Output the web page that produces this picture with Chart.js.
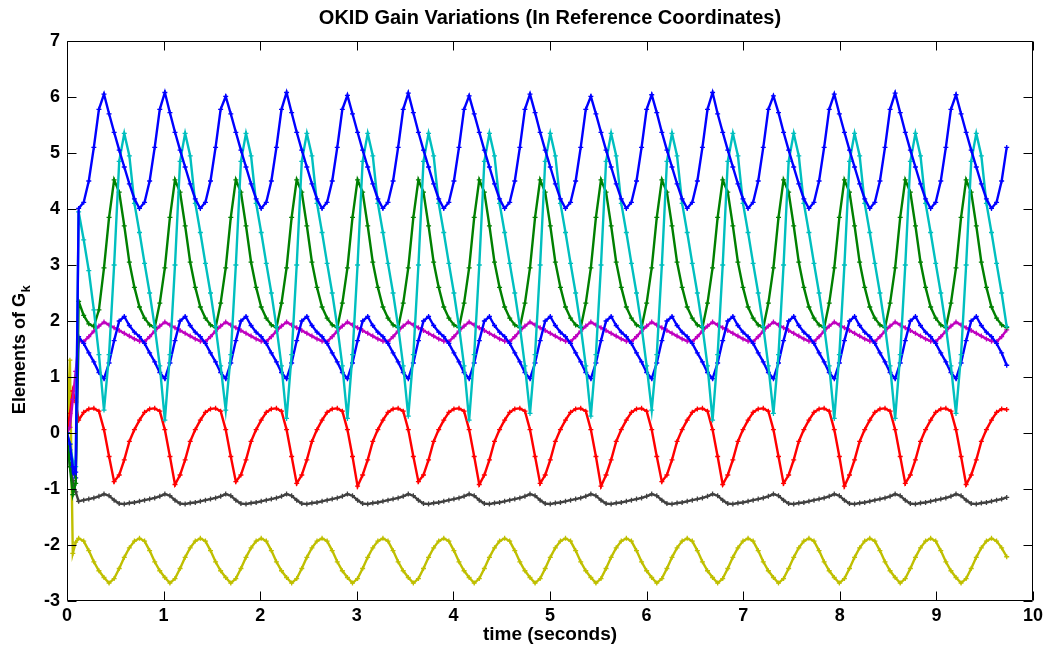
<!DOCTYPE html>
<html>
<head>
<meta charset="utf-8">
<script src="https://cdn.jsdelivr.net/npm/chart.js@4/dist/chart.umd.min.js"></script>
<style>
  html, body { margin: 0; padding: 0; background: #ffffff; }
  #wrap { width: 1047px; height: 650px; }
</style>
</head>
<body>
<div id="wrap"><canvas id="c" width="1047" height="650"></canvas></div>
<script>
// ---------------- data ----------------
const titleText = 'OKID Gain Variations (In Reference Coordinates)';
const xLabel = 'time (seconds)';
const yLabelMain = 'Elements of G';
const yLabelSub = 'k';
const xTickValues = [0, 1, 2, 3, 4, 5, 6, 7, 8, 9, 10];
const yTickValues = [-3, -2, -1, 0, 1, 2, 3, 4, 5, 6, 7];

const time = [
 0, 0.03, 0.06, 0.09,
 0.1205, 0.173, 0.2255, 0.278, 0.3305,
 0.383, 0.4355, 0.488, 0.5405, 0.593, 0.6455, 0.698, 0.7505, 0.803, 0.8555, 0.908, 0.9605,
 1.013, 1.0655, 1.118, 1.1705, 1.223, 1.2755, 1.328, 1.3805, 1.433, 1.4855, 1.538, 1.5905,
 1.643, 1.6955, 1.748, 1.8005, 1.853, 1.9055, 1.958, 2.0105, 2.063, 2.1155, 2.168, 2.2205,
 2.273, 2.3255, 2.378, 2.4305, 2.483, 2.5355, 2.588, 2.6405, 2.693, 2.7455, 2.798, 2.8505,
 2.903, 2.9555, 3.008, 3.0605, 3.113, 3.1655, 3.218, 3.2705, 3.323, 3.3755, 3.428, 3.4805,
 3.533, 3.5855, 3.638, 3.6905, 3.743, 3.7955, 3.848, 3.9005, 3.953, 4.0055, 4.058, 4.1105,
 4.163, 4.2155, 4.268, 4.3205, 4.373, 4.4255, 4.478, 4.5305, 4.583, 4.6355, 4.688, 4.7405,
 4.793, 4.8455, 4.898, 4.9505, 5.003, 5.0555, 5.108, 5.1605, 5.213, 5.2655, 5.318, 5.3705,
 5.423, 5.4755, 5.528, 5.5805, 5.633, 5.6855, 5.738, 5.7905, 5.843, 5.8955, 5.948, 6.0005,
 6.053, 6.1055, 6.158, 6.2105, 6.263, 6.3155, 6.368, 6.4205, 6.473, 6.5255, 6.578, 6.6305,
 6.683, 6.7355, 6.788, 6.8405, 6.893, 6.9455, 6.998, 7.0505, 7.103, 7.1555, 7.208, 7.2605,
 7.313, 7.3655, 7.418, 7.4705, 7.523, 7.5755, 7.628, 7.6805, 7.733, 7.7855, 7.838, 7.8905,
 7.943, 7.9955, 8.048, 8.1005, 8.153, 8.2055, 8.258, 8.3105, 8.363, 8.4155, 8.468, 8.5205,
 8.573, 8.6255, 8.678, 8.7305, 8.783, 8.8355, 8.888, 8.9405, 8.993, 9.0455, 9.098, 9.1505,
 9.203, 9.2555, 9.308, 9.3605, 9.413, 9.4655, 9.518, 9.5705, 9.623, 9.6755, 9.728
];

const gainBlueUpper = [
 0, -0.2, -0.6, -0.7,
 4.01, 4.12, 4.50, 5.10, 5.78,
 6.05, 5.70, 5.37, 5.05, 4.75, 4.45, 4.18, 4.01, 4.12, 4.50, 5.10, 5.78,
 6.08, 5.72, 5.37, 5.05, 4.75, 4.45, 4.18, 4.01, 4.12, 4.50, 5.10, 5.78,
 6.01, 5.70, 5.37, 5.05, 4.75, 4.45, 4.18, 4.01, 4.12, 4.50, 5.10, 5.78,
 6.08, 5.72, 5.37, 5.05, 4.75, 4.45, 4.18, 4.01, 4.12, 4.50, 5.10, 5.78,
 6.03, 5.70, 5.37, 5.05, 4.75, 4.45, 4.18, 4.01, 4.12, 4.50, 5.10, 5.78,
 6.07, 5.72, 5.37, 5.05, 4.75, 4.45, 4.18, 4.01, 4.12, 4.50, 5.10, 5.78,
 6.02, 5.70, 5.37, 5.05, 4.75, 4.45, 4.18, 4.01, 4.12, 4.50, 5.10, 5.78,
 6.05, 5.72, 5.37, 5.05, 4.75, 4.45, 4.18, 4.01, 4.12, 4.50, 5.10, 5.78,
 6.01, 5.70, 5.37, 5.05, 4.75, 4.45, 4.18, 4.01, 4.12, 4.50, 5.10, 5.78,
 6.04, 5.72, 5.37, 5.05, 4.75, 4.45, 4.18, 4.01, 4.12, 4.50, 5.10, 5.78,
 6.08, 5.70, 5.37, 5.05, 4.75, 4.45, 4.18, 4.01, 4.12, 4.50, 5.10, 5.78,
 6.02, 5.72, 5.37, 5.05, 4.75, 4.45, 4.18, 4.01, 4.12, 4.50, 5.10, 5.78,
 6.05, 5.70, 5.37, 5.05, 4.75, 4.45, 4.18, 4.01, 4.12, 4.50, 5.10, 5.78,
 6.07, 5.72, 5.37, 5.05, 4.75, 4.45, 4.18, 4.01, 4.12, 4.50, 5.10, 5.78,
 6.04, 5.70, 5.37, 5.05, 4.75, 4.45, 4.18, 4.01, 4.12, 4.50, 5.10
];

const gainCyan = [
 0, -0.2, -0.5, -0.6,
 3.95, 3.45, 2.90, 2.20, 1.40,
 0.41, 1.40, 3.00, 4.85, 5.35, 4.95, 4.10, 3.58, 3.03, 2.50, 1.90, 1.20,
 0.23, 1.40, 3.00, 4.85, 5.35, 4.95, 4.10, 3.58, 3.03, 2.50, 1.90, 1.20,
 0.41, 1.40, 3.00, 4.85, 5.35, 4.95, 4.10, 3.58, 3.03, 2.50, 1.90, 1.20,
 0.26, 1.40, 3.00, 4.85, 5.35, 4.95, 4.10, 3.58, 3.03, 2.50, 1.90, 1.20,
 0.26, 1.40, 3.00, 4.85, 5.35, 4.95, 4.10, 3.58, 3.03, 2.50, 1.90, 1.20,
 0.30, 1.40, 3.00, 4.85, 5.35, 4.95, 4.10, 3.58, 3.03, 2.50, 1.90, 1.20,
 0.23, 1.40, 3.00, 4.85, 5.35, 4.95, 4.10, 3.58, 3.03, 2.50, 1.90, 1.20,
 0.35, 1.40, 3.00, 4.85, 5.35, 4.95, 4.10, 3.58, 3.03, 2.50, 1.90, 1.20,
 0.30, 1.40, 3.00, 4.85, 5.35, 4.95, 4.10, 3.58, 3.03, 2.50, 1.90, 1.20,
 0.41, 1.40, 3.00, 4.85, 5.35, 4.95, 4.10, 3.58, 3.03, 2.50, 1.90, 1.20,
 0.23, 1.40, 3.00, 4.85, 5.35, 4.95, 4.10, 3.58, 3.03, 2.50, 1.90, 1.20,
 0.35, 1.40, 3.00, 4.85, 5.35, 4.95, 4.10, 3.58, 3.03, 2.50, 1.90, 1.20,
 0.26, 1.40, 3.00, 4.85, 5.35, 4.95, 4.10, 3.58, 3.03, 2.50, 1.90, 1.20,
 0.26, 1.40, 3.00, 4.85, 5.35, 4.95, 4.10, 3.58, 3.03, 2.50, 1.90, 1.20,
 0.35, 1.40, 3.00, 4.85, 5.35, 4.95, 4.10, 3.58, 3.03, 2.50, 1.90
];

const gainGreen = [
 0, -0.6, -1.1, -0.9,
 2.35, 2.10, 1.95, 1.90, 2.20,
 2.95, 3.85, 4.52, 4.30, 3.70, 3.05, 2.60, 2.25, 2.05, 1.93, 1.88, 2.32,
 2.95, 3.85, 4.52, 4.30, 3.70, 3.05, 2.60, 2.25, 2.05, 1.93, 1.88, 2.32,
 2.95, 3.85, 4.52, 4.30, 3.70, 3.05, 2.60, 2.25, 2.05, 1.93, 1.88, 2.32,
 2.95, 3.85, 4.52, 4.30, 3.70, 3.05, 2.60, 2.25, 2.05, 1.93, 1.88, 2.32,
 2.95, 3.85, 4.52, 4.30, 3.70, 3.05, 2.60, 2.25, 2.05, 1.93, 1.88, 2.32,
 2.95, 3.85, 4.52, 4.30, 3.70, 3.05, 2.60, 2.25, 2.05, 1.93, 1.88, 2.32,
 2.95, 3.85, 4.52, 4.30, 3.70, 3.05, 2.60, 2.25, 2.05, 1.93, 1.88, 2.32,
 2.95, 3.85, 4.52, 4.30, 3.70, 3.05, 2.60, 2.25, 2.05, 1.93, 1.88, 2.32,
 2.95, 3.85, 4.52, 4.30, 3.70, 3.05, 2.60, 2.25, 2.05, 1.93, 1.88, 2.32,
 2.95, 3.85, 4.52, 4.30, 3.70, 3.05, 2.60, 2.25, 2.05, 1.93, 1.88, 2.32,
 2.95, 3.85, 4.52, 4.30, 3.70, 3.05, 2.60, 2.25, 2.05, 1.93, 1.88, 2.32,
 2.95, 3.85, 4.52, 4.30, 3.70, 3.05, 2.60, 2.25, 2.05, 1.93, 1.88, 2.32,
 2.95, 3.85, 4.52, 4.30, 3.70, 3.05, 2.60, 2.25, 2.05, 1.93, 1.88, 2.32,
 2.95, 3.85, 4.52, 4.30, 3.70, 3.05, 2.60, 2.25, 2.05, 1.93, 1.88, 2.32,
 2.95, 3.85, 4.52, 4.30, 3.70, 3.05, 2.60, 2.25, 2.05, 1.93, 1.88
];

const gainBlueLower = [
 0, -0.3, -0.7, -0.8,
 1.72, 1.60, 1.43, 1.27, 1.08,
 0.97, 1.25, 1.65, 2.00, 2.08, 1.92, 1.80, 1.72, 1.60, 1.43, 1.27, 1.08,
 0.97, 1.25, 1.65, 2.00, 2.08, 1.92, 1.80, 1.72, 1.60, 1.43, 1.27, 1.08,
 0.97, 1.25, 1.65, 2.00, 2.08, 1.92, 1.80, 1.72, 1.60, 1.43, 1.27, 1.08,
 0.97, 1.25, 1.65, 2.00, 2.08, 1.92, 1.80, 1.72, 1.60, 1.43, 1.27, 1.08,
 0.97, 1.25, 1.65, 2.00, 2.08, 1.92, 1.80, 1.72, 1.60, 1.43, 1.27, 1.08,
 0.97, 1.25, 1.65, 2.00, 2.08, 1.92, 1.80, 1.72, 1.60, 1.43, 1.27, 1.08,
 0.97, 1.25, 1.65, 2.00, 2.08, 1.92, 1.80, 1.72, 1.60, 1.43, 1.27, 1.08,
 0.97, 1.25, 1.65, 2.00, 2.08, 1.92, 1.80, 1.72, 1.60, 1.43, 1.27, 1.08,
 0.97, 1.25, 1.65, 2.00, 2.08, 1.92, 1.80, 1.72, 1.60, 1.43, 1.27, 1.08,
 0.97, 1.25, 1.65, 2.00, 2.08, 1.92, 1.80, 1.72, 1.60, 1.43, 1.27, 1.08,
 0.97, 1.25, 1.65, 2.00, 2.08, 1.92, 1.80, 1.72, 1.60, 1.43, 1.27, 1.08,
 0.97, 1.25, 1.65, 2.00, 2.08, 1.92, 1.80, 1.72, 1.60, 1.43, 1.27, 1.08,
 0.97, 1.25, 1.65, 2.00, 2.08, 1.92, 1.80, 1.72, 1.60, 1.43, 1.27, 1.08,
 0.97, 1.25, 1.65, 2.00, 2.08, 1.92, 1.80, 1.72, 1.60, 1.43, 1.27, 1.08,
 0.97, 1.25, 1.65, 2.00, 2.08, 1.92, 1.80, 1.72, 1.60, 1.43, 1.21
];

const gainMagenta = [
 0, 0.1, 0.6, 1.1,
 1.64, 1.63, 1.72, 1.82, 1.91,
 1.98, 1.93, 1.88, 1.83, 1.78, 1.73, 1.68, 1.64, 1.63, 1.72, 1.82, 1.91,
 1.98, 1.93, 1.88, 1.83, 1.78, 1.73, 1.68, 1.64, 1.63, 1.72, 1.82, 1.91,
 1.98, 1.93, 1.88, 1.83, 1.78, 1.73, 1.68, 1.64, 1.63, 1.72, 1.82, 1.91,
 1.98, 1.93, 1.88, 1.83, 1.78, 1.73, 1.68, 1.64, 1.63, 1.72, 1.82, 1.91,
 1.98, 1.93, 1.88, 1.83, 1.78, 1.73, 1.68, 1.64, 1.63, 1.72, 1.82, 1.91,
 1.98, 1.93, 1.88, 1.83, 1.78, 1.73, 1.68, 1.64, 1.63, 1.72, 1.82, 1.91,
 1.98, 1.93, 1.88, 1.83, 1.78, 1.73, 1.68, 1.64, 1.63, 1.72, 1.82, 1.91,
 1.98, 1.93, 1.88, 1.83, 1.78, 1.73, 1.68, 1.64, 1.63, 1.72, 1.82, 1.91,
 1.98, 1.93, 1.88, 1.83, 1.78, 1.73, 1.68, 1.64, 1.63, 1.72, 1.82, 1.91,
 1.98, 1.93, 1.88, 1.83, 1.78, 1.73, 1.68, 1.64, 1.63, 1.72, 1.82, 1.91,
 1.98, 1.93, 1.88, 1.83, 1.78, 1.73, 1.68, 1.64, 1.63, 1.72, 1.82, 1.91,
 1.98, 1.93, 1.88, 1.83, 1.78, 1.73, 1.68, 1.64, 1.63, 1.72, 1.82, 1.91,
 1.98, 1.93, 1.88, 1.83, 1.78, 1.73, 1.68, 1.64, 1.63, 1.72, 1.82, 1.91,
 1.98, 1.93, 1.88, 1.83, 1.78, 1.73, 1.68, 1.64, 1.63, 1.72, 1.82, 1.91,
 1.98, 1.93, 1.88, 1.83, 1.78, 1.73, 1.68, 1.64, 1.63, 1.72, 1.84
];

const gainRed = [
 0, 0.35, 0.75, 0.55,
 0.23, 0.37, 0.43, 0.44, 0.39,
 0.06, -0.42, -0.87, -0.75, -0.48, -0.15, 0.06, 0.23, 0.37, 0.43, 0.44, 0.39,
 0.06, -0.42, -0.92, -0.75, -0.48, -0.15, 0.06, 0.23, 0.37, 0.43, 0.44, 0.39,
 0.06, -0.42, -0.87, -0.75, -0.48, -0.15, 0.06, 0.23, 0.37, 0.43, 0.44, 0.39,
 0.06, -0.42, -0.90, -0.75, -0.48, -0.15, 0.06, 0.23, 0.37, 0.43, 0.44, 0.39,
 0.06, -0.42, -0.95, -0.75, -0.48, -0.15, 0.06, 0.23, 0.37, 0.43, 0.44, 0.39,
 0.06, -0.42, -0.87, -0.75, -0.48, -0.15, 0.06, 0.23, 0.37, 0.43, 0.44, 0.39,
 0.06, -0.42, -0.92, -0.75, -0.48, -0.15, 0.06, 0.23, 0.37, 0.43, 0.44, 0.39,
 0.06, -0.42, -0.90, -0.75, -0.48, -0.15, 0.06, 0.23, 0.37, 0.43, 0.44, 0.39,
 0.06, -0.42, -0.95, -0.75, -0.48, -0.15, 0.06, 0.23, 0.37, 0.43, 0.44, 0.39,
 0.06, -0.42, -0.87, -0.75, -0.48, -0.15, 0.06, 0.23, 0.37, 0.43, 0.44, 0.39,
 0.06, -0.42, -0.92, -0.75, -0.48, -0.15, 0.06, 0.23, 0.37, 0.43, 0.44, 0.39,
 0.06, -0.42, -0.90, -0.75, -0.48, -0.15, 0.06, 0.23, 0.37, 0.43, 0.44, 0.39,
 0.06, -0.42, -0.95, -0.75, -0.48, -0.15, 0.06, 0.23, 0.37, 0.43, 0.44, 0.39,
 0.06, -0.42, -0.90, -0.75, -0.48, -0.15, 0.06, 0.23, 0.37, 0.43, 0.44, 0.39,
 0.06, -0.42, -0.92, -0.75, -0.48, -0.15, 0.06, 0.23, 0.37, 0.43, 0.42
];

const gainGray = [
 0, -0.6, -0.85, -1.05,
 -1.22, -1.20, -1.18, -1.16, -1.13,
 -1.09, -1.12, -1.20, -1.26, -1.27, -1.25, -1.24, -1.22, -1.20, -1.18, -1.16, -1.13,
 -1.09, -1.12, -1.20, -1.26, -1.27, -1.25, -1.24, -1.22, -1.20, -1.18, -1.16, -1.13,
 -1.09, -1.12, -1.20, -1.26, -1.27, -1.25, -1.24, -1.22, -1.20, -1.18, -1.16, -1.13,
 -1.09, -1.12, -1.20, -1.26, -1.27, -1.25, -1.24, -1.22, -1.20, -1.18, -1.16, -1.13,
 -1.09, -1.12, -1.20, -1.26, -1.27, -1.25, -1.24, -1.22, -1.20, -1.18, -1.16, -1.13,
 -1.09, -1.12, -1.20, -1.26, -1.27, -1.25, -1.24, -1.22, -1.20, -1.18, -1.16, -1.13,
 -1.09, -1.12, -1.20, -1.26, -1.27, -1.25, -1.24, -1.22, -1.20, -1.18, -1.16, -1.13,
 -1.09, -1.12, -1.20, -1.26, -1.27, -1.25, -1.24, -1.22, -1.20, -1.18, -1.16, -1.13,
 -1.09, -1.12, -1.20, -1.26, -1.27, -1.25, -1.24, -1.22, -1.20, -1.18, -1.16, -1.13,
 -1.09, -1.12, -1.20, -1.26, -1.27, -1.25, -1.24, -1.22, -1.20, -1.18, -1.16, -1.13,
 -1.09, -1.12, -1.20, -1.26, -1.27, -1.25, -1.24, -1.22, -1.20, -1.18, -1.16, -1.13,
 -1.09, -1.12, -1.20, -1.26, -1.27, -1.25, -1.24, -1.22, -1.20, -1.18, -1.16, -1.13,
 -1.09, -1.12, -1.20, -1.26, -1.27, -1.25, -1.24, -1.22, -1.20, -1.18, -1.16, -1.13,
 -1.09, -1.12, -1.20, -1.26, -1.27, -1.25, -1.24, -1.22, -1.20, -1.18, -1.16, -1.13,
 -1.09, -1.12, -1.20, -1.26, -1.27, -1.25, -1.24, -1.22, -1.20, -1.18, -1.15
];

const gainYellow = [
 0, 1.3, -2.15, -1.95,
 -1.88, -1.93, -2.10, -2.30, -2.46,
 -2.58, -2.68, -2.60, -2.42, -2.22, -2.05, -1.93, -1.88, -1.93, -2.10, -2.30, -2.46,
 -2.58, -2.68, -2.60, -2.42, -2.22, -2.05, -1.93, -1.88, -1.93, -2.10, -2.30, -2.46,
 -2.58, -2.68, -2.60, -2.42, -2.22, -2.05, -1.93, -1.88, -1.93, -2.10, -2.30, -2.46,
 -2.58, -2.68, -2.60, -2.42, -2.22, -2.05, -1.93, -1.88, -1.93, -2.10, -2.30, -2.46,
 -2.58, -2.68, -2.60, -2.42, -2.22, -2.05, -1.93, -1.88, -1.93, -2.10, -2.30, -2.46,
 -2.58, -2.68, -2.60, -2.42, -2.22, -2.05, -1.93, -1.88, -1.93, -2.10, -2.30, -2.46,
 -2.58, -2.68, -2.60, -2.42, -2.22, -2.05, -1.93, -1.88, -1.93, -2.10, -2.30, -2.46,
 -2.58, -2.68, -2.60, -2.42, -2.22, -2.05, -1.93, -1.88, -1.93, -2.10, -2.30, -2.46,
 -2.58, -2.68, -2.60, -2.42, -2.22, -2.05, -1.93, -1.88, -1.93, -2.10, -2.30, -2.46,
 -2.58, -2.68, -2.60, -2.42, -2.22, -2.05, -1.93, -1.88, -1.93, -2.10, -2.30, -2.46,
 -2.58, -2.68, -2.60, -2.42, -2.22, -2.05, -1.93, -1.88, -1.93, -2.10, -2.30, -2.46,
 -2.58, -2.68, -2.60, -2.42, -2.22, -2.05, -1.93, -1.88, -1.93, -2.10, -2.30, -2.46,
 -2.58, -2.68, -2.60, -2.42, -2.22, -2.05, -1.93, -1.88, -1.93, -2.10, -2.30, -2.46,
 -2.58, -2.68, -2.60, -2.42, -2.22, -2.05, -1.93, -1.88, -1.93, -2.10, -2.30, -2.46,
 -2.58, -2.68, -2.60, -2.42, -2.22, -2.05, -1.93, -1.88, -1.93, -2.05, -2.21
];

const seriesNames = ['G(1)', 'G(2)', 'G(3)', 'G(4)', 'G(5)', 'G(6)', 'G(7)', 'G(8)'];
const seriesValues = [gainBlueUpper, gainCyan, gainGreen, gainBlueLower, gainMagenta, gainRed, gainGray, gainYellow];
const seriesColors = ['#0000FF', '#00BFBF', '#008000', '#0000FF', '#BF00BF', '#FF0000', '#404040', '#BFBF00'];

// ---------------- chart ----------------
const FONT = '"Liberation Sans", Arial, Helvetica, sans-serif';

const framePlugin = {
  id: 'matlabFrame',
  afterDatasetsDraw(chart) {
    const { ctx, chartArea: a, scales: { x, y } } = chart;
    const L = Math.round(a.left) + 0.5, R = Math.round(a.right) - 0.5;
    const T = Math.round(a.top) + 0.5, B = Math.round(a.bottom) - 0.5;
    ctx.save();
    ctx.strokeStyle = '#000000';
    ctx.lineWidth = 1;
    ctx.beginPath();
    ctx.rect(L, T, R - L, B - T);
    const tl = 9;
    xTickValues.forEach(v => {
      const px = Math.round(x.getPixelForValue(v)) + 0.5;
      ctx.moveTo(px, B); ctx.lineTo(px, B - tl);
      ctx.moveTo(px, T); ctx.lineTo(px, T + tl);
    });
    yTickValues.forEach(v => {
      const py = Math.round(y.getPixelForValue(v)) + 0.5;
      ctx.moveTo(L, py); ctx.lineTo(L + tl, py);
      ctx.moveTo(R, py); ctx.lineTo(R - tl, py);
    });
    ctx.stroke();
    ctx.restore();
  },
  afterDraw(chart) {
    const { ctx } = chart;
    const cy = 350;
    ctx.save();
    ctx.fillStyle = '#000000';
    ctx.translate(20, cy);
    ctx.rotate(-Math.PI / 2);
    ctx.textBaseline = 'middle';
    ctx.textAlign = 'left';
    ctx.font = 'bold 18px ' + FONT;
    const w1 = ctx.measureText(yLabelMain).width;
    ctx.font = 'bold 13px ' + FONT;
    const w2 = ctx.measureText(yLabelSub).width;
    const start = -(w1 + w2) / 2;
    ctx.font = 'bold 18px ' + FONT;
    ctx.fillText(yLabelMain, start, 0);
    ctx.font = 'bold 13px ' + FONT;
    ctx.fillText(yLabelSub, start + w1 + 0.5, 6);
    ctx.restore();
  }
};

const datasets = seriesValues.map((vals, i) => ({
  label: seriesNames[i],
  data: vals.map((v, j) => ({ x: time[j], y: v })),
  borderColor: seriesColors[i],
  backgroundColor: seriesColors[i],
  borderWidth: 2.4,
  pointStyle: 'cross',
  pointRadius: 2.5,
  pointBorderWidth: 1.3,
  pointBorderColor: seriesColors[i],
  pointHoverRadius: 2.5,
  tension: 0,
  fill: false
}));

new Chart(document.getElementById('c'), {
  type: 'line',
  data: { datasets },
  options: {
    responsive: false,
    devicePixelRatio: 1,
    animation: false,
    events: [],
    layout: { padding: { left: 0, right: 14, top: 0, bottom: 0 } },
    plugins: {
      legend: { display: false },
      tooltip: { enabled: false },
      title: {
        display: true,
        text: titleText,
        fullSize: false,
        color: '#000000',
        font: { family: FONT, size: 20, weight: 'bold' },
        padding: { top: 6, bottom: 11 }
      }
    },
    scales: {
      x: {
        type: 'linear',
        min: 0, max: 10,
        grid: { display: false, drawTicks: false },
        border: { display: false },
        ticks: {
          stepSize: 1,
          color: '#000000',
          padding: 4,
          maxRotation: 0,
          font: { family: FONT, size: 18, weight: 'bold' }
        },
        title: {
          display: true,
          text: xLabel,
          color: '#000000',
          font: { family: FONT, size: 19, weight: 'bold' },
          padding: { top: 0, bottom: 4 }
        },
        afterFit(scale) { scale.height = 49; }
      },
      y: {
        type: 'linear',
        min: -3, max: 7,
        grid: { display: false, drawTicks: false },
        border: { display: false },
        ticks: {
          stepSize: 1,
          color: '#000000',
          padding: 7,
          font: { family: FONT, size: 18, weight: 'bold' }
        },
        afterFit(scale) { scale.width = 67; }
      }
    }
  },
  plugins: [framePlugin]
});
</script>
</body>
</html>
